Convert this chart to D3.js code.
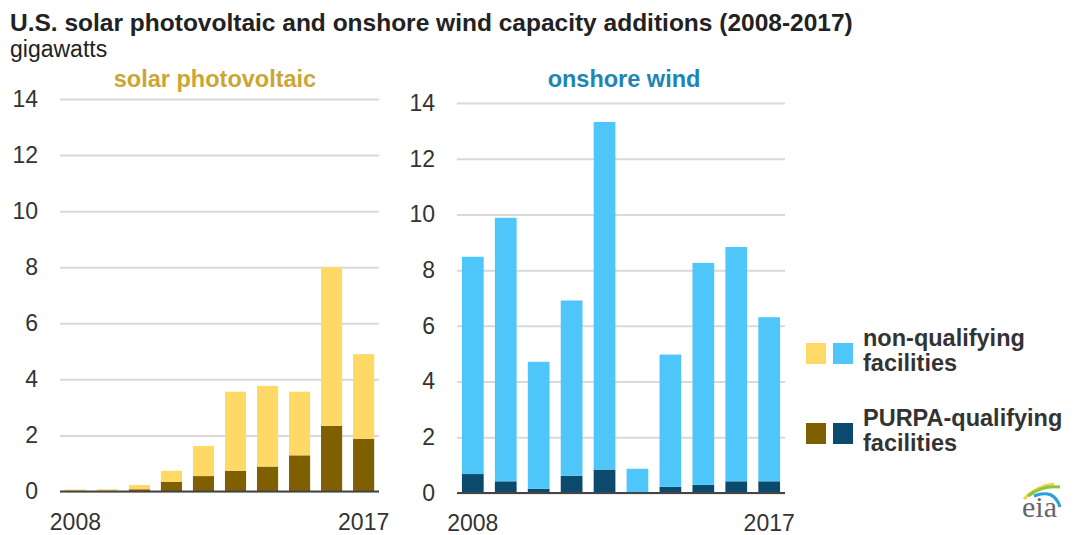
<!DOCTYPE html>
<html>
<head>
<meta charset="utf-8">
<script src="https://cdn.jsdelivr.net/npm/d3@7"></script>
<style>
  body { margin: 0; background: #fff; }
  svg text { font-family: "Liberation Sans", Arial, sans-serif; }
</style>
</head>
<body>
<svg id="chart" width="1081" height="535"></svg>
<script>
// categories
const years = [2008, 2009, 2010, 2011, 2012, 2013, 2014, 2015, 2016, 2017];
const yTicks = [0, 2, 4, 6, 8, 10, 12, 14];
const xTickYears = [2008, 2017];

// gigawatts
const solarPurpa = [0.02, 0.02, 0.08, 0.35, 0.55, 0.74, 0.89, 1.29, 2.34, 1.88];
const solarNonQual = [0.05, 0.06, 0.15, 0.39, 1.07, 2.82, 2.88, 2.27, 5.66, 3.02];
const windPurpa = [0.68, 0.42, 0.15, 0.62, 0.84, 0.01, 0.22, 0.29, 0.42, 0.42];
const windNonQual = [7.80, 9.46, 4.56, 6.29, 12.48, 0.86, 4.75, 7.97, 8.41, 5.89];

const legendLabels = [["non-qualifying", "facilities"], ["PURPA-qualifying", "facilities"]];

const svg = d3.select('#chart');

// title
svg.append('text')
    .attr('x', 10).attr('y', 31)
    .attr('font-size', '24.5px').attr('font-weight', 'bold')
    .attr('fill', '#222')
    .text('U.S. solar photovoltaic and onshore wind capacity additions (2008-2017)');
svg.append('text')
    .attr('x', 10).attr('y', 57)
    .attr('font-size', '23px')
    .attr('fill', '#222')
    .text('gigawatts');

function drawPanel(opts) {
    let x = d3.scaleBand()
        .domain(years)
        .range([opts.x0, opts.x1])
        .paddingInner(0.34)
        .paddingOuter(0.15);
    let y = d3.scaleLinear()
        .domain([0, 14])
        .range([opts.yBottom, opts.yTop]);

    let g = svg.append('g');

    // gridlines + labels
    let yAxis = g.append('g')
        .attr('transform', 'translate(' + opts.x0 + ',0)')
        .call(d3.axisLeft(y).tickValues(yTicks).tickSize(-(opts.x1 - opts.x0)).tickPadding(22));
    yAxis.select('.domain').remove();
    yAxis.selectAll('.tick line').attr('stroke', '#d9d9d9').attr('stroke-width', 2);
    yAxis.selectAll('.tick text')
        .attr('font-size', '23px')
        .attr('fill', '#333');

    // stacked bars
    let rows = years.map((yr, i) => ({ year: yr, purpa: opts.purpa[i], non: opts.non[i] }));
    let series = d3.stack().keys(['purpa', 'non'])(rows);
    g.selectAll('g.layer')
        .data(series)
        .enter()
        .append('g')
        .attr('class', 'layer')
        .attr('fill', d => opts.colors[d.key])
        .selectAll('rect')
        .data(d => d)
        .enter()
        .append('rect')
        .attr('x', d => x(d.data.year))
        .attr('width', x.bandwidth())
        .attr('y', d => y(d[1]))
        .attr('height', d => y(d[0]) - y(d[1]));

    // zero line
    g.append('line')
        .attr('x1', opts.x0).attr('x2', opts.x1)
        .attr('y1', y(0)).attr('y2', y(0))
        .attr('stroke', '#444').attr('stroke-width', 2);

    // x labels
    let xAxis = g.append('g')
        .attr('transform', 'translate(0,' + y(0) + ')')
        .call(d3.axisBottom(x).tickValues(xTickYears).tickSize(0).tickPadding(22));
    xAxis.select('.domain').remove();
    xAxis.selectAll('.tick text')
        .attr('font-size', '23px')
        .attr('fill', '#333');

    // panel title
    g.append('text')
        .attr('x', opts.titleX).attr('y', 87)
        .attr('text-anchor', 'middle')
        .attr('font-size', '23.5px').attr('font-weight', 'bold')
        .attr('fill', opts.titleColor)
        .text(opts.title);
}

drawPanel({
    x0: 60, x1: 379, yBottom: 491.5, yTop: 99,
    purpa: solarPurpa, non: solarNonQual,
    colors: { purpa: '#7f6000', non: '#ffd966' },
    title: 'solar photovoltaic', titleColor: '#cba634', titleX: 215
});
drawPanel({
    x0: 457, x1: 785, yBottom: 493, yTop: 103,
    purpa: windPurpa, non: windNonQual,
    colors: { purpa: '#0b4a6c', non: '#4fc6fa' },
    title: 'onshore wind', titleColor: '#1c86b4', titleX: 624
});

// legend
let legendColors = [['#ffd966', '#4fc6fa'], ['#7f6000', '#0b4a6c']];
let legendTop = [343, 423];
let lg = svg.append('g');
legendLabels.forEach((lines, i) => {
    legendColors[i].forEach((c, j) => {
        lg.append('rect')
            .attr('x', 806 + j * 27).attr('y', legendTop[i])
            .attr('width', 20).attr('height', 21)
            .attr('fill', c);
    });
    lines.forEach((t, k) => {
        lg.append('text')
            .attr('x', 863).attr('y', legendTop[i] + 3 + k * 25)
            .attr('font-size', '23.5px').attr('font-weight', 'bold')
            .attr('fill', '#333')
            .text(t);
    });
});

// eia logo
let logo = svg.append('g');
logo.append('path')
    .attr('d', 'M1024,499 Q1036,486 1054,484')
    .attr('fill', 'none').attr('stroke', '#f4d04a').attr('stroke-width', 3);
logo.append('path')
    .attr('d', 'M1028,496 Q1042,485 1060,487')
    .attr('fill', 'none').attr('stroke', '#8cc63f').attr('stroke-width', 3);
logo.append('path')
    .attr('d', 'M1034,496 Q1054,488 1060,507')
    .attr('fill', 'none').attr('stroke', '#2a9fd8').attr('stroke-width', 3);
logo.append('text')
    .attr('x', 1022).attr('y', 517)
    .style('font-family', '"Liberation Serif", "DejaVu Serif", serif')
    .attr('font-size', '30px')
    .attr('fill', '#666')
    .text('eia');
</script>
</body>
</html>
